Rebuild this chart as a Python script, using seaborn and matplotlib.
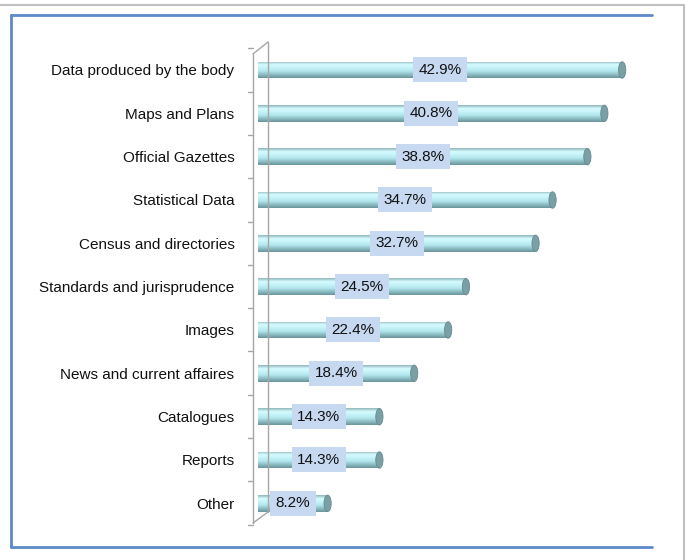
import numpy as np
import pandas as pd
import seaborn as sns
import matplotlib
matplotlib.use("Agg")
import matplotlib.pyplot as plt
from matplotlib.patches import Ellipse
from matplotlib.lines import Line2D
from matplotlib.colors import LinearSegmentedColormap

categories = [
    "Data produced by the body",
    "Maps and Plans",
    "Official Gazettes",
    "Statistical Data",
    "Census and directories",
    "Standards and jurisprudence",
    "Images",
    "News and current affaires",
    "Catalogues",
    "Reports",
    "Other",
]
shares = [42.9, 40.8, 38.8, 34.7, 32.7, 24.5, 22.4, 18.4, 14.3, 14.3, 8.2]
value_labels = [f"{v:.1f}%" for v in shares]

W, H = 691, 560
sns.set_theme(style="white")
plt.rcParams["font.family"] = ["Liberation Sans", "DejaVu Sans"]

fig = plt.figure(figsize=(W / 100, H / 100), dpi=100)
fig.patch.set_facecolor("white")


def fx(px):
    return px / W


def fy(py):
    return 1 - py / H


# plot area: x from 258 px to 640 px, y from 44 px to 525 px
ax = fig.add_axes([fx(258), fy(525), fx(640) - fx(258), fy(44) - fy(525)])
df = pd.DataFrame({"category": categories, "share": shares})
sns.barplot(data=df, x="share", y="category", orient="h", color="#bdeff5",
            saturation=1, width=0.38, ax=ax, zorder=3)
ax.set_xlim(0, 45)
ax.set_ylim(10.5, -0.6)
ax.set_xlabel("")
ax.set_ylabel("")
ax.set_xticks([])
for s in ax.spines.values():
    s.set_visible(False)
ax.tick_params(axis="y", length=0, pad=17, labelsize=11, labelcolor="#111111")
ax.patch.set_alpha(0)

# cylinder shading for each bar
cyl = LinearSegmentedColormap.from_list(
    "cyl", ["#8fb6bb", "#d6fbff", "#c4f3f8", "#b2e6ec", "#8cbcc3", "#6a959b"])
grad = np.linspace(0, 1, 64).reshape(-1, 1)
for patch in list(ax.patches):
    x0, y0 = patch.get_x(), patch.get_y()
    w, h = patch.get_width(), patch.get_height()
    im = ax.imshow(grad, cmap=cyl, aspect="auto", origin="upper",
                   extent=(x0, x0 + w, y0 + h, y0), zorder=4,
                   interpolation="bilinear")
    im.set_clip_path(patch)
    cap = Ellipse((x0 + w, y0 + h / 2), width=0.85, height=h,
                  facecolor="#7a9fa4", edgecolor="#668a90", lw=0.6, zorder=5)
    ax.add_patch(cap)

# value labels centred on the bars
for i, (v, lab) in enumerate(zip(shares, value_labels)):
    ax.text(v / 2, i, lab, ha="center", va="center", fontsize=11,
            color="#111111", zorder=7,
            bbox=dict(boxstyle="square,pad=0.36", facecolor="#c6d9f1",
                      edgecolor="none"))

ax.set_xlim(0, 45)
ax.set_ylim(10.5, -0.6)

# 3D axis wall on the left
wall = "#a6a6a6"
lines = [
    [(268, 42), (268, 512)],
    [(253, 54), (253, 523)],
    [(253, 54), (268, 42)],
    [(253, 523), (268, 512)],
]
for i in range(12):
    yy = 48.3 + 43.3 * i
    lines.append([(248, yy), (253, yy)])
for seg in lines:
    (xa, ya), (xb, yb) = seg
    fig.add_artist(Line2D([fx(xa), fx(xb)], [fy(ya), fy(yb)], color=wall,
                          lw=1.0, zorder=1))

# outer frame
gray = "#c0c0c0"
fig.add_artist(Line2D([fx(0), fx(684)], [fy(5), fy(5)], color=gray, lw=1.5))
fig.add_artist(Line2D([fx(684), fx(684)], [fy(5), fy(560)], color=gray, lw=1.5))
blue = "#5b8ac6"
fig.add_artist(Line2D([fx(11), fx(11)], [fy(15), fy(547)], color=blue, lw=2))
fig.add_artist(Line2D([fx(11), fx(652)], [fy(15), fy(15)], color=blue, lw=2))
fig.add_artist(Line2D([fx(11), fx(652)], [fy(547), fy(547)], color=blue, lw=2))

fig.savefig("out.png", dpi=100, facecolor="white")
